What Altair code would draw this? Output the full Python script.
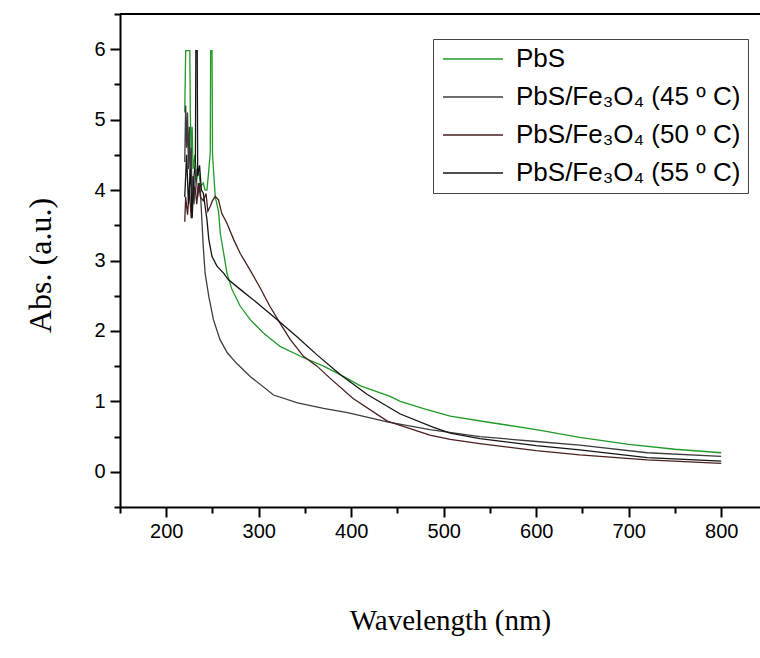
import altair as alt
import pandas as pd

# ---------------- data ----------------
series_names = [
    "PbS",
    "PbS/Fe₃O₄ (45 º C)",
    "PbS/Fe₃O₄ (50 º C)",
    "PbS/Fe₃O₄ (55 º C)",
]
series_colors = ["#1f9a26", "#3d3d3d", "#4a1e1e", "#141414"]

pbs_wl = [220, 221, 225.5, 226, 227, 228, 229, 231, 233, 235, 237, 240, 242, 244, 245.7, 247.6, 248, 249.5,
          250, 251, 253, 256.5, 258.4, 262, 265.6, 271, 280, 290.8, 305, 323, 345, 370, 388, 410, 442, 453,
          480, 507, 550, 600, 647, 700, 750, 800]
pbs_abs = [5.1, 5.98, 5.98, 5.1, 4.5, 4.9, 4.3, 4.5, 4.15, 4.3, 4.05, 4.1, 4.0, 4.0, 4.24, 4.53, 5.98, 5.98,
           4.53, 4.3, 3.9, 3.7, 3.39, 3.11, 2.82, 2.59, 2.35, 2.16, 1.97, 1.78, 1.64, 1.50, 1.38, 1.22, 1.07, 1.0,
           0.89, 0.79, 0.70, 0.60, 0.49, 0.39, 0.32, 0.27]

s45_wl = [220, 221, 222, 223, 224, 225, 226, 227, 228, 229, 230, 232, 234, 236, 237, 240, 242, 246, 251, 258,
          266, 276, 291, 316, 342, 370, 396, 439, 485, 539, 600, 647, 720, 800]
s45_abs = [4.4, 5.2, 4.6, 5.1, 4.3, 4.9, 4.1, 4.6, 3.7, 4.2, 3.8, 4.3, 3.9, 4.1, 3.96, 3.2, 2.82, 2.49, 2.16, 1.88,
           1.69, 1.54, 1.35, 1.09, 0.98, 0.90, 0.84, 0.71, 0.60, 0.50, 0.43, 0.38, 0.27, 0.22]

s50_wl = [220, 221, 223, 225, 227, 229, 231, 233, 235, 237, 240, 243, 245, 247.6, 250, 253, 256.5, 260, 265.6,
          272.8, 280, 290.8, 301.6, 312, 323, 334, 348.4, 363, 377, 402, 439, 485, 507, 539, 600, 647, 720, 800]
s50_abs = [3.55, 3.9, 3.65, 4.0, 3.6, 3.95, 4.05, 3.8, 4.1, 3.9, 3.85, 3.95, 3.7, 3.77, 3.85, 3.91, 3.86, 3.67, 3.53,
           3.30, 3.10, 2.86, 2.61, 2.35, 2.11, 1.88, 1.64, 1.50, 1.33, 1.04, 0.72, 0.52, 0.46, 0.40, 0.30, 0.24, 0.17, 0.12]

s55_wl = [220, 222, 224, 226, 228, 230, 231.5, 232, 233.5, 234, 236, 238, 240, 244, 246, 249.4, 254.8, 262, 267,
          280, 298, 320, 341, 363, 388, 417, 453, 489, 507, 539, 600, 647, 720, 800]
s55_abs = [3.9, 4.5, 3.8, 4.3, 3.6, 4.2, 4.4, 5.98, 5.98, 4.2, 4.35, 4.0, 3.96, 3.58, 3.30, 3.06, 2.92, 2.82, 2.73,
           2.59, 2.40, 2.16, 1.92, 1.66, 1.38, 1.10, 0.82, 0.63, 0.55, 0.47, 0.37, 0.31, 0.20, 0.15]

x_ticks = list(range(150, 851, 50))
y_ticks = [v / 2 for v in range(-1, 14)]
x_min, x_max = 150, 841.9
y_min, y_max = -0.5, 6.5

# ---------------- table ----------------
rows = []
for name, wl, ab in zip(series_names,
                        [pbs_wl, s45_wl, s50_wl, s55_wl],
                        [pbs_abs, s45_abs, s50_abs, s55_abs]):
    for i, (w, a) in enumerate(zip(wl, ab)):
        rows.append({"series": name, "wl": w, "abs": a, "idx": i})
df = pd.DataFrame(rows)

x_scale = alt.Scale(domain=[x_min, x_max], nice=False, zero=False)
y_scale = alt.Scale(domain=[y_min, y_max], nice=False, zero=False)

x_axis = alt.Axis(
    values=x_ticks, tickCount=40,
    labelExpr="datum.value % 100 === 0 ? datum.label : ''",
    tickSize={"condition": {"test": "datum.value % 100 === 0", "value": 10}, "value": 6},
    tickWidth=2, tickColor="black", domainWidth=2, domainColor="black",
    labelFont="Liberation Sans", labelFontSize=20, labelColor="black", labelPadding=4,
    labelFlush=False, labelOverlap=False, grid=False,
    title="Wavelength (nm)", titleFont="Liberation Serif", titleFontSize=29,
    titleFontWeight="normal", titleColor="black",
    titleX=330, titleY=113, titleAlign="center", titleBaseline="middle",
)
y_axis = alt.Axis(
    values=y_ticks, tickCount=40,
    labelExpr="datum.value % 1 === 0 ? '' + datum.value : ''",
    tickSize={"condition": {"test": "datum.value % 1 === 0", "value": 10}, "value": 6},
    tickWidth=2, tickColor="black", domainWidth=2, domainColor="black",
    labelFont="Liberation Sans", labelFontSize=20, labelColor="black", labelPadding=5,
    labelFlush=False, labelOverlap=False, grid=False,
    title="Abs. (a.u.)", titleFont="Liberation Serif", titleFontSize=32,
    titleFontWeight="normal", titleColor="black", titleAngle=270,
    titleX=-80, titleY=251, titleAlign="center", titleBaseline="middle",
)

lines = alt.Chart(df).mark_line(strokeWidth=1.3, clip=True).encode(
    x=alt.X("wl:Q", scale=x_scale, axis=x_axis),
    y=alt.Y("abs:Q", scale=y_scale, axis=y_axis),
    color=alt.Color(
        "series:N",
        scale=alt.Scale(domain=series_names, range=series_colors),
        legend=alt.Legend(
            orient="none", legendX=313, legendY=25, title=None,
            labelFont="Liberation Sans", labelFontSize=26, labelColor="black",
            symbolType="M-1,0H5", symbolSize=400, symbolStrokeWidth=1.5,
            strokeColor="#444", fillColor="white", padding=7, rowPadding=12,
            labelLimit=400, labelOffset=50,
        ),
    ),
    order="idx:Q",
)

frame_top = alt.Chart(pd.DataFrame({"x": [x_min], "x2": [x_max], "y": [y_max]})).mark_rule(
    color="black", strokeWidth=2
).encode(x=alt.X("x:Q", scale=x_scale), x2="x2:Q", y=alt.Y("y:Q", scale=y_scale))

chart = alt.layer(lines, frame_top).properties(
    width=640, height=493,
    padding={"left": 120, "top": 14, "right": 0, "bottom": 151},
    autosize=alt.AutoSizeParams(type="none"),
    background="white",
).configure_view(stroke=None)

chart.save("out.html", embed_options={"renderer": "svg", "actions": False})
